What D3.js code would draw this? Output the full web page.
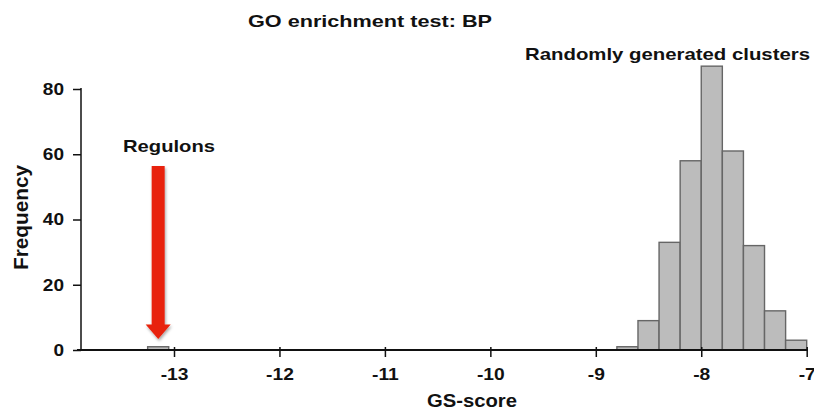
<!DOCTYPE html>
<html>
<head>
<meta charset="utf-8">
<script src="https://d3js.org/d3.v7.min.js"></script>
<style>
  html, body { margin: 0; padding: 0; background: #fff; }
  svg text { font-family: 'Liberation Sans', Arial, Helvetica, sans-serif; font-weight: bold; fill: #111; }
</style>
</head>
<body>
<svg id="chart" width="814" height="411"></svg>
<script>
// histogram bins of random clusters (bin start, width 0.2)
const binStarts = [-8.8, -8.6, -8.4, -8.2, -8.0, -7.8, -7.6, -7.4, -7.2];
const binCounts = [1, 9, 33, 58, 87, 61, 32, 12, 3];
const binWidth = 0.2;

// the single regulon bin
const regulonStart = [-13.25];
const regulonCount = [1];

const xTicks = [-13, -12, -11, -10, -9, -8, -7];
const yTicks = [0, 20, 40, 60, 80];

const svg = d3.select('#chart');

// scales
const x = d3.scaleLinear().domain([-13, -7]).range([174, 806.7]);
const y = d3.scaleLinear().domain([0, 80]).range([350, 89]);
const xLeft = 81;

// the source picture has slightly widened lettering
function stretch(sel, factor) {
  sel.each(function() {
    const w = this.getComputedTextLength();
    d3.select(this).attr('textLength', w * factor).attr('lengthAdjust', 'spacingAndGlyphs');
  });
}

// bars
const bars = binStarts.map((s, i) => ({ x0: s, x1: s + binWidth, n: binCounts[i] }))
  .concat(regulonStart.map((s, i) => ({ x0: s, x1: s + binWidth, n: regulonCount[i] })));

svg.append('g').selectAll('rect')
  .data(bars)
  .enter()
  .append('rect')
  .attr('x', d => x(d.x0))
  .attr('y', d => y(d.n))
  .attr('width', d => x(d.x1) - x(d.x0))
  .attr('height', d => y(0) - y(d.n))
  .attr('fill', '#bcbcbc')
  .attr('stroke', '#666')
  .attr('stroke-width', 1.4);

// x axis
const xAxis = svg.append('g')
  .attr('transform', `translate(0,${y(0)})`)
  .call(d3.axisBottom(x).tickValues(xTicks).tickSize(7).tickFormat(d3.format('d')));
xAxis.select('.domain').remove();
xAxis.append('line')
  .attr('x1', xLeft - 4).attr('x2', x(-7) + 1)
  .attr('stroke', '#111').attr('stroke-width', 2);
xAxis.selectAll('.tick line').attr('stroke', '#111').attr('stroke-width', 1.5).attr('y1', -3);
xAxis.selectAll('.tick text')
  .attr('y', 18)
  .attr('dy', '0.71em')
  .style('font-size', '17px')
  .text(d => '-' + Math.abs(d))
  .call(stretch, 1.13);

// y axis
const yAxis = svg.append('g')
  .attr('transform', `translate(${xLeft},0)`)
  .call(d3.axisLeft(y).tickValues(yTicks).tickSize(8));
yAxis.select('.domain').remove();
yAxis.append('line')
  .attr('y1', y(80) - 1).attr('y2', y(0))
  .attr('stroke', '#111').attr('stroke-width', 1.5);
yAxis.selectAll('.tick line').attr('stroke', '#111').attr('stroke-width', 1.5);
yAxis.selectAll('.tick text')
  .attr('x', -17)
  .style('font-size', '17px')
  .call(stretch, 1.12);

// arrow pointing at the regulon bin
const ax = x(regulonStart[0] + binWidth / 2);
const aTop = y(56.4), aNeck = y(7.8), aTip = y(3.4);
const defs = svg.append('defs');
const shadow = defs.append('filter').attr('id', 'shadow').attr('x', '-50%').attr('y', '-10%').attr('width', '200%').attr('height', '130%');
shadow.append('feDropShadow').attr('dx', 1).attr('dy', 2).attr('stdDeviation', 1.5).attr('flood-color', '#000').attr('flood-opacity', 0.35);
svg.append('path')
  .attr('d', `M${ax - 6.5},${aTop} L${ax + 6.5},${aTop} L${ax + 6.5},${aNeck} L${ax + 12.5},${aNeck} L${ax},${aTip} L${ax - 12.5},${aNeck} L${ax - 6.5},${aNeck} Z`)
  .attr('fill', '#e8210b')
  .attr('filter', 'url(#shadow)');

// texts
svg.append('text')
  .attr('x', 370).attr('y', 26.5)
  .attr('text-anchor', 'middle')
  .style('font-size', '17px')
  .attr('textLength', 244).attr('lengthAdjust', 'spacingAndGlyphs')
  .text('GO enrichment test: BP');

svg.append('text')
  .attr('x', 525).attr('y', 60)
  .style('font-size', '17px')
  .attr('textLength', 285).attr('lengthAdjust', 'spacingAndGlyphs')
  .text('Randomly generated clusters');

svg.append('text')
  .attr('x', 123).attr('y', 151.5)
  .style('font-size', '17px')
  .attr('textLength', 92).attr('lengthAdjust', 'spacingAndGlyphs')
  .text('Regulons');

svg.append('text')
  .attr('x', 427).attr('y', 406.5)
  .style('font-size', '19px')
  .attr('textLength', 90).attr('lengthAdjust', 'spacingAndGlyphs')
  .text('GS-score');

svg.append('text')
  .attr('transform', 'translate(27.5,270) rotate(-90)')
  .style('font-size', '20px')
  .attr('textLength', 105).attr('lengthAdjust', 'spacingAndGlyphs')
  .text('Frequency');
</script>
</body>
</html>
